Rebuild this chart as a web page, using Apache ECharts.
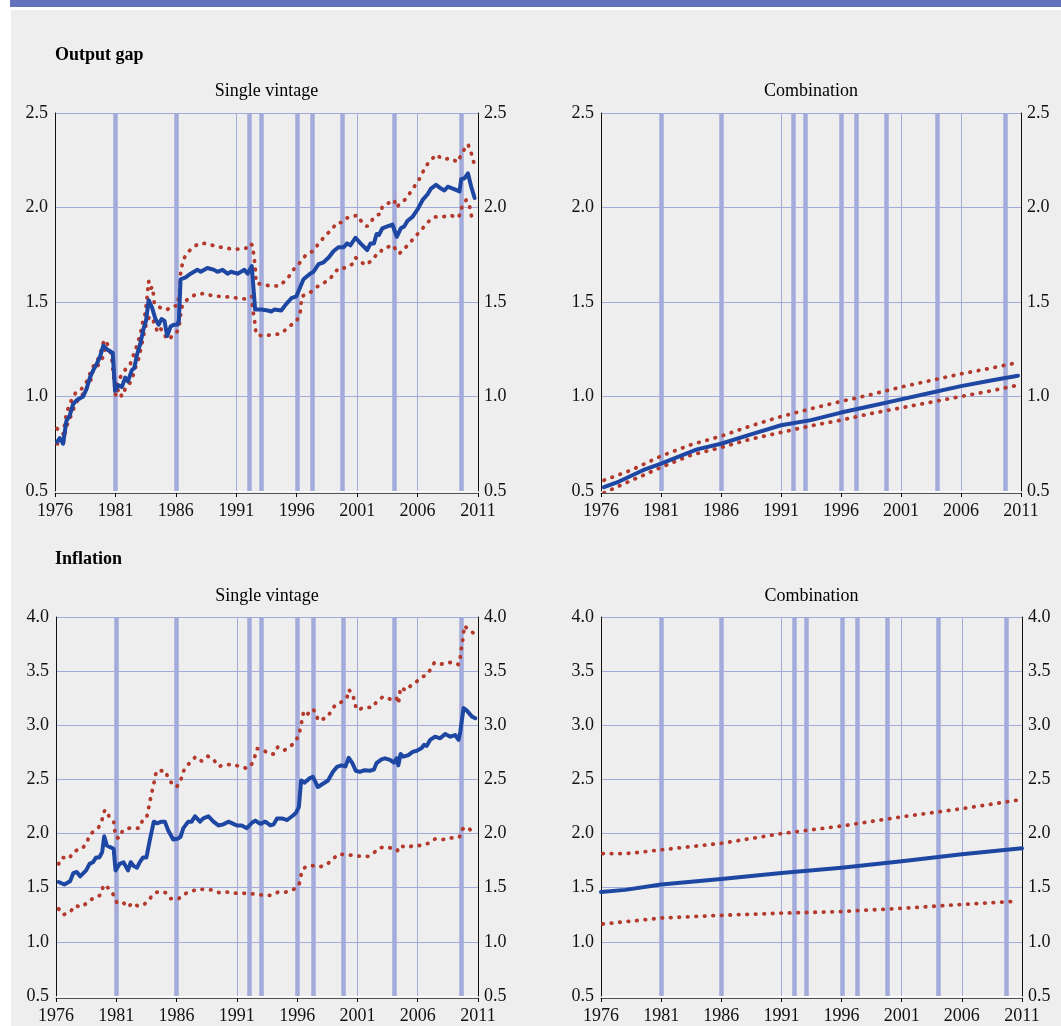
<!DOCTYPE html>
<html>
<head>
<meta charset="utf-8">
<script src="https://cdn.jsdelivr.net/npm/echarts@6/dist/echarts.min.js"></script>
<style>
  html, body { margin: 0; padding: 0; background: #ffffff; }
  #bar { position: absolute; left: 10px; top: 0; width: 1051px; height: 7px; background: #6373bb; }
  #panel { position: absolute; left: 11px; top: 10px; width: 1050px; height: 1016px; background: #eeeeee; }
  #chart { position: absolute; left: 0; top: 0; width: 1061px; height: 1026px; }
</style>
</head>
<body>
<div id="bar"></div>
<div id="panel"></div>
<div id="chart"></div>
<script>
// Dates of the data vintages (thick vertical bars)
const vintages = [1981.0, 1986.0, 1992.05, 1993.05, 1996.05, 1997.3, 1999.8, 2004.05, 2009.65];

// Output gap, single vintage: estimate and band
const gapSingleMid = [[1976.17,0.76],[1976.39,0.78],[1976.67,0.75],[1976.94,0.87],[1977.22,0.90],[1977.5,0.96],[1977.78,0.98],[1978.33,1.00],[1978.61,1.04],[1978.89,1.10],[1979.17,1.14],[1979.44,1.17],[1979.72,1.21],[1980.0,1.27],[1980.28,1.25],[1980.78,1.23],[1980.97,1.03],[1981.25,1.06],[1981.53,1.05],[1981.81,1.10],[1982.03,1.08],[1982.36,1.14],[1982.56,1.15],[1982.78,1.22],[1983.06,1.28],[1983.33,1.36],[1983.53,1.40],[1983.75,1.51],[1984.03,1.47],[1984.31,1.41],[1984.58,1.38],[1984.81,1.41],[1985.06,1.40],[1985.28,1.32],[1985.56,1.37],[1985.83,1.38],[1986.11,1.38],[1986.25,1.40],[1986.39,1.62],[1986.81,1.63],[1987.22,1.65],[1987.78,1.67],[1988.06,1.66],[1988.61,1.68],[1989.17,1.67],[1989.44,1.66],[1989.86,1.67],[1990.28,1.65],[1990.56,1.66],[1991.11,1.65],[1991.39,1.66],[1991.67,1.67],[1991.94,1.65],[1992.28,1.69],[1992.56,1.46],[1993.06,1.46],[1993.61,1.455],[1993.89,1.45],[1994.17,1.46],[1994.72,1.455],[1995.14,1.49],[1995.56,1.52],[1995.97,1.53],[1996.1,1.53],[1996.56,1.62],[1997.11,1.65],[1997.39,1.66],[1997.81,1.70],[1998.22,1.71],[1998.64,1.735],[1999.06,1.77],[1999.47,1.79],[1999.89,1.79],[2000.17,1.81],[2000.44,1.80],[2000.86,1.84],[2001.28,1.81],[2001.83,1.775],[2002.11,1.81],[2002.39,1.81],[2002.61,1.86],[2002.81,1.855],[2003.08,1.89],[2003.5,1.90],[2003.92,1.91],[2004.06,1.91],[2004.28,1.845],[2004.61,1.89],[2004.89,1.90],[2005.17,1.93],[2005.58,1.95],[2006.0,1.99],[2006.42,2.04],[2006.83,2.07],[2007.11,2.10],[2007.53,2.12],[2007.94,2.10],[2008.22,2.09],[2008.5,2.11],[2008.92,2.10],[2009.47,2.085],[2009.61,2.15],[2009.89,2.155],[2010.17,2.18],[2010.44,2.11],[2010.72,2.05]];
const gapSingleUp = [[1976.17,0.83],[1976.67,0.80],[1976.94,0.91],[1977.22,0.96],[1977.5,1.00],[1977.83,1.03],[1978.19,1.04],[1978.56,1.07],[1978.89,1.12],[1979.17,1.16],[1979.5,1.19],[1979.72,1.22],[1980.06,1.30],[1980.42,1.27],[1980.69,1.22],[1980.83,1.15],[1980.97,1.04],[1981.25,1.09],[1981.61,1.12],[1981.89,1.15],[1982.22,1.17],[1982.5,1.22],[1982.78,1.27],[1983.06,1.33],[1983.28,1.40],[1983.47,1.44],[1983.61,1.52],[1983.75,1.61],[1983.89,1.57],[1984.08,1.58],[1984.22,1.49],[1984.44,1.48],[1984.72,1.47],[1985.0,1.47],[1985.28,1.46],[1985.56,1.47],[1985.83,1.48],[1986.11,1.48],[1986.31,1.55],[1986.39,1.65],[1986.53,1.70],[1986.67,1.73],[1986.94,1.76],[1987.44,1.79],[1987.92,1.81],[1988.47,1.81],[1989.03,1.80],[1989.72,1.79],[1990.69,1.78],[1991.39,1.78],[1991.81,1.785],[1992.08,1.81],[1992.36,1.80],[1992.44,1.75],[1992.56,1.69],[1992.64,1.60],[1993.33,1.59],[1993.89,1.585],[1994.58,1.585],[1995.0,1.61],[1995.42,1.64],[1995.83,1.68],[1996.22,1.705],[1996.83,1.755],[1997.39,1.77],[1997.81,1.81],[1998.36,1.85],[1998.92,1.885],[1999.33,1.92],[1999.75,1.92],[2000.17,1.945],[2000.58,1.95],[2001.0,1.96],[2001.42,1.92],[2001.83,1.90],[2002.25,1.935],[2002.61,1.96],[2002.94,1.965],[2003.08,2.005],[2003.5,2.02],[2004.06,2.04],[2004.25,2.00],[2004.53,2.02],[2005.03,2.045],[2005.72,2.11],[2006.14,2.15],[2006.69,2.22],[2007.11,2.25],[2007.53,2.28],[2008.08,2.255],[2008.72,2.26],[2009.33,2.24],[2009.61,2.28],[2009.89,2.31],[2010.17,2.335],[2010.39,2.30],[2010.58,2.255],[2010.72,2.22]];
const gapSingleLow = [[1976.17,0.75],[1976.67,0.75],[1976.94,0.84],[1977.22,0.88],[1977.5,0.93],[1977.83,0.975],[1978.19,1.00],[1978.56,1.04],[1978.89,1.07],[1979.17,1.14],[1979.5,1.16],[1979.86,1.19],[1980.14,1.25],[1980.5,1.25],[1980.69,1.22],[1980.78,1.15],[1980.92,1.07],[1981.03,1.00],[1981.25,1.04],[1981.53,1.00],[1981.81,1.04],[1982.08,1.06],[1982.36,1.09],[1982.64,1.15],[1982.92,1.20],[1983.19,1.28],[1983.39,1.34],[1983.61,1.40],[1983.81,1.42],[1984.03,1.42],[1984.25,1.38],[1984.5,1.34],[1984.72,1.36],[1985.0,1.34],[1985.19,1.31],[1985.42,1.30],[1985.69,1.32],[1985.97,1.33],[1986.25,1.36],[1986.39,1.43],[1986.53,1.48],[1986.72,1.50],[1987.08,1.52],[1987.64,1.54],[1988.33,1.545],[1989.17,1.53],[1989.72,1.53],[1990.56,1.525],[1991.25,1.52],[1991.81,1.515],[1992.08,1.525],[1992.28,1.53],[1992.36,1.46],[1992.5,1.41],[1992.64,1.33],[1993.19,1.32],[1993.75,1.325],[1994.44,1.33],[1994.86,1.34],[1995.33,1.37],[1995.83,1.39],[1996.0,1.40],[1996.28,1.44],[1996.42,1.53],[1997.11,1.55],[1997.67,1.58],[1998.22,1.60],[1998.72,1.62],[1999.47,1.68],[2000.03,1.68],[2000.58,1.70],[2000.86,1.735],[2001.28,1.715],[2001.69,1.695],[2002.11,1.715],[2002.53,1.745],[2002.81,1.75],[2003.08,1.78],[2003.5,1.79],[2004.0,1.80],[2004.19,1.775],[2004.47,1.755],[2004.89,1.78],[2005.31,1.81],[2005.72,1.84],[2006.22,1.875],[2006.56,1.90],[2006.97,1.93],[2007.39,1.95],[2008.08,1.95],[2008.72,1.96],[2009.28,1.945],[2009.56,1.965],[2009.67,2.005],[2010.03,2.04],[2010.31,2.005],[2010.44,1.96],[2010.67,1.925]];

// Output gap, combination
const gapCombMid = [[1976.25,0.52],[1977.5,0.55],[1979.5,0.61],[1981,0.645],[1984,0.72],[1986,0.75],[1988.5,0.80],[1991,0.848],[1993.5,0.875],[1996,0.915],[1998.5,0.95],[2001,0.985],[2003.5,1.02],[2006,1.055],[2008.5,1.085],[2010.75,1.11]];
const gapCombUp = [[1976.25,0.557],[1978.5,0.61],[1981,0.685],[1983.5,0.745],[1986,0.79],[1988.5,0.845],[1991,0.894],[1993.5,0.935],[1996,0.974],[1998.5,1.01],[2001,1.05],[2003.5,1.085],[2006,1.12],[2008.5,1.15],[2010.75,1.18]];
const gapCombLow = [[1976.25,0.49],[1978.5,0.555],[1981,0.625],[1983.5,0.69],[1986,0.73],[1988.5,0.775],[1991,0.81],[1993.5,0.845],[1996,0.875],[1998.5,0.91],[2001,0.94],[2003.5,0.97],[2006,1.0],[2008.5,1.03],[2010.75,1.06]];

// Inflation, single vintage
const infSingleMid = [[1976.22,1.553],[1976.69,1.53],[1977.17,1.56],[1977.44,1.635],[1977.72,1.645],[1978.0,1.605],[1978.5,1.66],[1978.78,1.72],[1979.06,1.735],[1979.33,1.78],[1979.6,1.78],[1979.83,1.83],[1980.0,1.975],[1980.22,1.89],[1980.58,1.87],[1980.78,1.86],[1980.94,1.66],[1981.28,1.72],[1981.6,1.735],[1981.97,1.66],[1982.2,1.735],[1982.44,1.70],[1982.72,1.685],[1982.94,1.735],[1983.22,1.78],[1983.5,1.78],[1983.78,1.94],[1984.11,2.11],[1984.39,2.095],[1984.75,2.11],[1985.03,2.11],[1985.3,2.03],[1985.72,1.945],[1986.14,1.955],[1986.33,1.97],[1986.56,2.05],[1986.97,2.11],[1987.25,2.11],[1987.53,2.16],[1987.94,2.11],[1988.22,2.14],[1988.64,2.16],[1989.06,2.11],[1989.47,2.075],[1989.89,2.085],[1990.3,2.11],[1990.72,2.09],[1991.0,2.075],[1991.4,2.075],[1991.83,2.05],[1992.25,2.10],[1992.53,2.12],[1992.94,2.09],[1993.36,2.11],[1993.78,2.075],[1994.05,2.085],[1994.33,2.14],[1994.75,2.14],[1995.17,2.125],[1995.58,2.16],[1995.9,2.19],[1996.14,2.245],[1996.33,2.49],[1996.6,2.47],[1997.03,2.51],[1997.3,2.525],[1997.72,2.43],[1998.14,2.46],[1998.56,2.49],[1998.97,2.57],[1999.3,2.615],[1999.67,2.63],[2000.0,2.62],[2000.28,2.70],[2000.58,2.65],[2000.86,2.58],[2001.19,2.57],[2001.6,2.585],[2002.03,2.58],[2002.36,2.59],[2002.58,2.65],[2003.0,2.685],[2003.28,2.695],[2003.7,2.68],[2004.03,2.655],[2004.25,2.695],[2004.39,2.63],[2004.58,2.735],[2004.8,2.71],[2005.22,2.725],[2005.58,2.755],[2005.92,2.765],[2006.33,2.79],[2006.53,2.82],[2006.75,2.81],[2007.03,2.865],[2007.44,2.895],[2007.86,2.88],[2008.28,2.92],[2008.7,2.895],[2009.1,2.91],[2009.39,2.865],[2009.53,2.94],[2009.8,3.16],[2010.08,3.135],[2010.5,3.08],[2010.78,3.065]];
const infSingleUp = [[1976.22,1.72],[1976.5,1.78],[1977.1,1.77],[1977.44,1.83],[1977.8,1.85],[1978.17,1.86],[1978.55,1.915],[1978.78,1.985],[1979.2,2.03],[1979.55,2.06],[1979.8,2.12],[1979.94,2.19],[1980.08,2.22],[1980.4,2.16],[1980.78,2.115],[1980.86,2.04],[1980.95,1.97],[1981.22,1.955],[1981.5,2.02],[1981.78,2.045],[1982.1,2.05],[1982.4,2.05],[1982.67,2.05],[1982.9,2.05],[1983.17,2.12],[1983.5,2.14],[1983.64,2.215],[1983.78,2.29],[1983.92,2.37],[1984.06,2.43],[1984.2,2.51],[1984.33,2.58],[1984.7,2.58],[1985.08,2.58],[1985.3,2.51],[1985.67,2.455],[1986.0,2.43],[1986.33,2.48],[1986.5,2.56],[1986.78,2.62],[1987.17,2.66],[1987.58,2.71],[1988.08,2.67],[1988.58,2.715],[1989.06,2.685],[1989.47,2.62],[1990.08,2.635],[1990.67,2.64],[1991.22,2.62],[1991.89,2.60],[1992.33,2.655],[1992.53,2.725],[1992.67,2.785],[1993.22,2.77],[1993.64,2.735],[1994.1,2.735],[1994.4,2.80],[1994.94,2.77],[1995.4,2.80],[1995.86,2.85],[1996.14,2.91],[1996.28,2.98],[1996.42,3.055],[1996.53,3.125],[1996.8,3.095],[1997.25,3.15],[1997.58,3.12],[1997.72,3.045],[1998.0,3.05],[1998.56,3.08],[1998.92,3.155],[1999.3,3.20],[1999.8,3.22],[2000.14,3.26],[2000.28,3.33],[2000.44,3.34],[2000.64,3.28],[2000.78,3.20],[2000.97,3.14],[2001.56,3.165],[2002.25,3.165],[2002.64,3.225],[2003.14,3.265],[2003.75,3.24],[2004.2,3.26],[2004.4,3.20],[2004.58,3.35],[2005.03,3.32],[2005.5,3.375],[2005.92,3.405],[2006.33,3.445],[2006.75,3.465],[2007.08,3.52],[2007.39,3.58],[2008.0,3.565],[2008.47,3.58],[2009.06,3.58],[2009.39,3.56],[2009.53,3.63],[2009.6,3.70],[2009.72,3.775],[2009.8,3.845],[2009.86,3.92],[2010.14,3.89],[2010.64,3.85]];
const infSingleLow = [[1976.22,1.305],[1976.6,1.25],[1977.17,1.275],[1977.6,1.335],[1978.08,1.32],[1978.64,1.365],[1979.14,1.41],[1979.67,1.43],[1979.9,1.505],[1980.1,1.53],[1980.44,1.48],[1980.8,1.43],[1981.05,1.36],[1981.55,1.365],[1981.97,1.32],[1982.33,1.36],[1982.8,1.33],[1983.36,1.35],[1983.72,1.39],[1984.1,1.445],[1984.53,1.465],[1985.08,1.455],[1985.5,1.40],[1986.14,1.395],[1986.6,1.44],[1987.17,1.465],[1987.72,1.485],[1988.3,1.485],[1988.92,1.48],[1989.53,1.455],[1990.17,1.46],[1990.86,1.45],[1991.47,1.45],[1992.05,1.445],[1992.6,1.44],[1993.22,1.43],[1993.83,1.43],[1994.42,1.46],[1995.08,1.46],[1995.72,1.485],[1996.14,1.52],[1996.28,1.595],[1996.42,1.66],[1996.67,1.69],[1997.22,1.705],[1997.78,1.69],[1998.42,1.71],[1998.92,1.76],[1999.4,1.81],[2000.03,1.805],[2000.58,1.80],[2001.28,1.79],[2001.89,1.79],[2002.39,1.825],[2002.86,1.87],[2003.47,1.875],[2003.97,1.86],[2004.3,1.84],[2004.53,1.89],[2005.08,1.87],[2005.7,1.89],[2006.33,1.89],[2006.89,1.91],[2007.44,1.95],[2008.08,1.945],[2008.64,1.96],[2009.2,1.96],[2009.47,1.97],[2009.67,2.04],[2010.14,2.06],[2010.58,2.01]];

// Inflation, combination
const infCombMid = [[1976.0,1.46],[1978,1.48],[1981,1.53],[1986,1.58],[1991,1.635],[1996,1.685],[2001,1.745],[2006,1.81],[2011,1.865]];
const infCombUp = [[1976.15,1.815],[1978,1.815],[1979,1.825],[1981,1.85],[1986,1.91],[1991,2.0],[1996,2.07],[2001,2.155],[2006,2.23],[2010.7,2.31]];
const infCombLow = [[1976.15,1.165],[1981,1.22],[1986,1.245],[1991,1.265],[1996,1.28],[2001,1.31],[2006,1.345],[2010.7,1.375]];

// Axis ranges and tick labels
const yearMin = 1976, yearMax = 2011, yearStep = 5;
const gapRange = [0.5, 2.5];
const infRange = [0.5, 4.0];
const yStep = 0.5;

const FONT = 'Liberation Serif';
const GRIDC = '#a3abdb';
const BLUE = '#1d47a2';
const RED = '#b3392c';

const grids = [
  { left: 55, top: 113, width: 423, height: 378 },
  { left: 601, top: 113, width: 420, height: 378 },
  { left: 56, top: 617, width: 422, height: 379 },
  { left: 601, top: 617, width: 421, height: 379 }
];
const panels = [
  { range: gapRange, mid: gapSingleMid, up: gapSingleUp, low: gapSingleLow },
  { range: gapRange, mid: gapCombMid, up: gapCombUp, low: gapCombLow },
  { range: infRange, mid: infSingleMid, up: infSingleUp, low: infSingleLow },
  { range: infRange, mid: infCombMid, up: infCombUp, low: infCombLow }
];

const labelStyle = { fontFamily: FONT, fontSize: 18, color: '#111', lineHeight: 18 };

const xAxis = [], yAxis = [], series = [];
panels.forEach((p, i) => {
  const nLines = Math.round((p.range[1] - p.range[0]) / yStep) + 1;
  const hColors = [];
  for (let k = 0; k < nLines; k++) hColors.push(k === 0 ? '#ffffff' : GRIDC);
  xAxis.push({
    gridIndex: i, type: 'value', min: yearMin, max: yearMax, interval: yearStep,
    offset: 2,
    axisLine: { show: true, lineStyle: { color: '#555', width: 1 } },
    axisTick: { show: true, length: 4, lineStyle: { color: '#000' } },
    axisLabel: Object.assign({ margin: 9, formatter: v => String(v) }, labelStyle),
    splitLine: { show: true, lineStyle: { color: GRIDC, width: 1 } }
  });
  yAxis.push({
    gridIndex: i, type: 'value', position: 'left', min: p.range[0], max: p.range[1], interval: yStep,
    axisLine: { show: true, lineStyle: { color: '#111', width: 1 } },
    axisTick: { show: false },
    axisLabel: Object.assign({ margin: 7, formatter: v => v.toFixed(1) }, labelStyle),
    splitLine: { show: true, lineStyle: { color: hColors, width: 1 } }
  });
  yAxis.push({
    gridIndex: i, type: 'value', position: 'right', min: p.range[0], max: p.range[1], interval: yStep,
    axisLine: { show: true, lineStyle: { color: '#111', width: 1 } },
    axisTick: { show: false },
    axisLabel: Object.assign({ margin: 6, formatter: v => v.toFixed(1) }, labelStyle),
    splitLine: { show: false }
  });
  const yi = i * 2;
  // vintage bars
  series.push({
    type: 'line', xAxisIndex: i, yAxisIndex: yi, data: [], z: 1, silent: true,
    markLine: {
      silent: true, symbol: ['none', 'none'], z: 1, animation: false,
      label: { show: false },
      lineStyle: { color: GRIDC, width: 4.5, type: 'solid' },
      data: vintages.map(v => ({ xAxis: v }))
    }
  });
  [p.up, p.low].forEach(band => {
    series.push({
      type: 'line', xAxisIndex: i, yAxisIndex: yi, data: band, z: 3,
      symbol: 'none', silent: true,
      lineStyle: { color: RED, width: 3.8, type: [0.5, 8], cap: 'round' }
    });
  });
  series.push({
    type: 'line', xAxisIndex: i, yAxisIndex: yi, data: p.mid, z: 4,
    symbol: 'none', silent: true,
    lineStyle: { color: BLUE, width: 4, join: 'round', cap: 'round' }
  });
});

function txt(text, x, y, bold, align) {
  return {
    type: 'text', x: x, y: y, silent: true,
    style: {
      text: text, fill: '#000', textAlign: align, textVerticalAlign: 'middle',
      font: (bold ? 'bold ' : '') + '18px "' + FONT + '"'
    }
  };
}

const chart = echarts.init(document.getElementById('chart'), null, { renderer: 'canvas' });
chart.setOption({
  animation: false,
  backgroundColor: 'transparent',
  grid: grids,
  xAxis: xAxis,
  yAxis: yAxis,
  series: series,
  graphic: [
    txt('Output gap', 55, 55, true, 'left'),
    txt('Single vintage', 266.5, 91, false, 'center'),
    txt('Combination', 811, 91, false, 'center'),
    txt('Inflation', 55, 559, true, 'left'),
    txt('Single vintage', 267, 596, false, 'center'),
    txt('Combination', 811.5, 596, false, 'center')
  ]
});
</script>
</body>
</html>
